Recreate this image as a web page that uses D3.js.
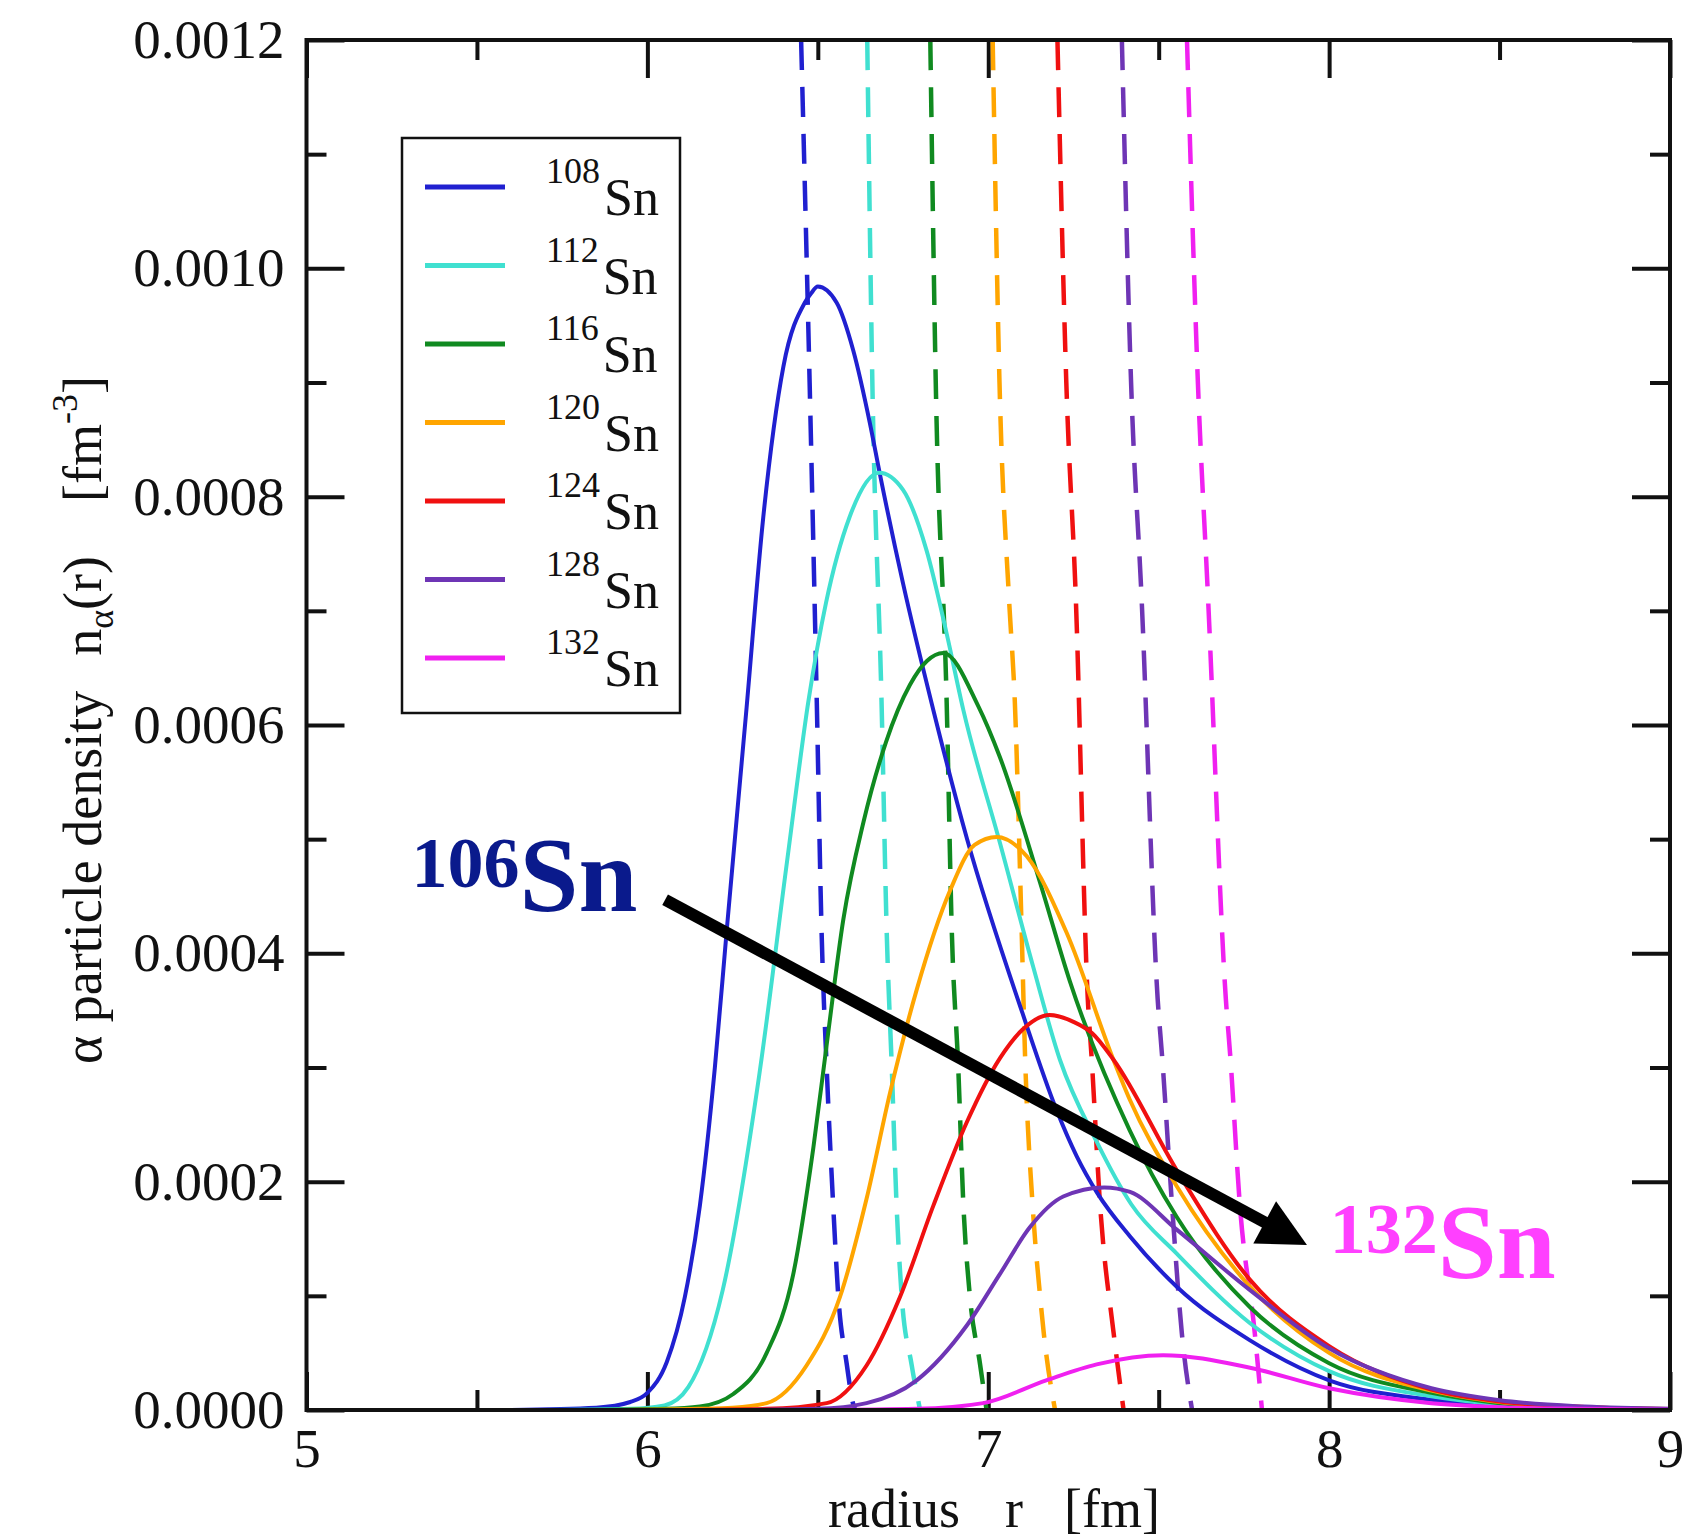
<!DOCTYPE html>
<meta charset='utf-8'>
<head>
    <title>Alpha particle density in Sn isotopes</title>
    <script src='https://cdn.jsdelivr.net/npm/d3@7/dist/d3.min.js'></script>
</head>

<style>
    body { margin: 0; background: #fff; }
    text { font-family: 'Liberation Serif', 'Times New Roman', serif; fill: #111; }
    .tick text { font-size: 55px; }
    .tick line { stroke: #111; stroke-width: 4px; }
    .curve { fill: none; stroke-width: 4px; stroke-linejoin: round; }
    .dashed { fill: none; stroke-width: 4.5px; stroke-dasharray: 30 17; }
</style>

<svg></svg>

<script>
    var vWidth = 1686;
    var vHeight = 1540;

    // density values below are in units of 1e-4 fm^-3
    var vUnit = 1e-4;

    var vNames = ['108', '112', '116', '120', '124', '128', '132'];
    var vColors = ['#2020d0', '#40e0d0', '#108a20', '#ffa500', '#f01010', '#6e35b5', '#f020f0'];

    var vXTicks = [5, 6, 7, 8, 9];
    var vXMinor = [5.5, 6.5, 7.5, 8.5];
    var vYTicks = [0, 0.0002, 0.0004, 0.0006, 0.0008, 0.0010, 0.0012];
    var vYMinor = [0.0001, 0.0003, 0.0005, 0.0007, 0.0009, 0.0011];

    // alpha particle density n_alpha(r), [r in fm, n]
    var vAlpha108 = [[5.60, 0], [5.85, 0.02], [5.95, 0.07], [6.00, 0.15], [6.057, 0.42], [6.11, 0.99],
        [6.154, 1.79], [6.198, 3.00], [6.233, 4.21], [6.291, 6.15], [6.34, 7.82], [6.399, 9.14],
        [6.462, 9.70], [6.48, 9.78], [6.50, 9.84], [6.555, 9.70], [6.604, 9.28], [6.653, 8.64],
        [6.682, 8.20], [6.75, 7.24], [6.839, 6.13], [6.937, 5.01], [7.10, 3.48], [7.20, 2.63],
        [7.26, 2.22], [7.32, 1.90], [7.416, 1.52], [7.553, 1.08], [7.768, 0.61], [8.0, 0.26],
        [8.3, 0.09], [8.5, 0.04], [8.75, 0.015], [9.0, 0.005]];
    var vAlpha112 = [[5.70, 0], [5.95, 0.01], [6.05, 0.04], [6.12, 0.20], [6.221, 1.05], [6.328, 2.93],
        [6.41, 4.81], [6.473, 6.22], [6.524, 7.07], [6.593, 7.82], [6.68, 8.21], [6.75, 8.06],
        [6.819, 7.53], [6.878, 6.80], [6.927, 6.13], [7.034, 4.97], [7.132, 3.88], [7.21, 3.07],
        [7.318, 2.35], [7.42, 1.80], [7.553, 1.37], [7.768, 0.76], [8.0, 0.34], [8.3, 0.12],
        [8.5, 0.05], [8.75, 0.018], [9.0, 0.006]];
    var vAlpha116 = [[5.80, 0], [6.05, 0.01], [6.154, 0.03], [6.252, 0.14], [6.35, 0.50], [6.428, 1.19],
        [6.487, 2.30], [6.526, 3.20], [6.575, 4.30], [6.634, 5.15], [6.70, 5.85], [6.77, 6.35],
        [6.82, 6.56], [6.868, 6.63], [6.97, 6.17], [7.034, 5.72], [7.152, 4.62], [7.24, 3.75],
        [7.415, 2.45], [7.553, 1.69], [7.768, 0.90], [8.0, 0.41], [8.3, 0.15], [8.5, 0.06],
        [8.75, 0.02], [9.0, 0.007]];
    var vAlpha120 = [[5.90, 0], [6.15, 0.01], [6.25, 0.02], [6.35, 0.06], [6.467, 0.39], [6.565, 0.99],
        [6.643, 1.85], [6.712, 2.78], [6.79, 3.68], [6.888, 4.55], [6.96, 4.95], [7.025, 5.02],
        [7.113, 4.85], [7.23, 4.18], [7.367, 3.07], [7.415, 2.72], [7.553, 1.96], [7.768, 1.08],
        [8.0, 0.50], [8.3, 0.17], [8.5, 0.07], [8.75, 0.025], [9.0, 0.008]];
    var vAlpha124 = [[6.0, 0], [6.35, 0.01], [6.526, 0.06], [6.643, 0.39], [6.741, 0.99], [6.839, 1.79],
        [6.937, 2.52], [7.034, 3.08], [7.10, 3.33], [7.18, 3.46], [7.25, 3.40], [7.305, 3.30],
        [7.367, 3.07], [7.553, 2.10], [7.768, 1.14], [8.0, 0.56], [8.3, 0.18], [8.5, 0.075],
        [8.75, 0.027], [9.0, 0.009]];
    var vAlpha128 = [[6.2, 0], [6.5, 0.01], [6.643, 0.06], [6.79, 0.26], [6.937, 0.74], [7.034, 1.19],
        [7.122, 1.60], [7.22, 1.87], [7.34, 1.95], [7.416, 1.91], [7.553, 1.58], [7.768, 1.05],
        [8.0, 0.54], [8.3, 0.19], [8.5, 0.085], [8.75, 0.03], [9.0, 0.01]];
    var vAlpha132 = [[6.5, 0], [6.79, 0.01], [6.985, 0.06], [7.17, 0.26], [7.318, 0.40], [7.513, 0.48],
        [7.768, 0.37], [8.0, 0.19], [8.3, 0.06], [8.5, 0.025], [8.75, 0.01], [9.0, 0.003]];

    // dashed curves, steep fall-off, [r in fm, n]
    var vDash108 = [[6.451, 12], [6.476, 9.0], [6.497, 6.2], [6.511, 4.2], [6.526, 3.0], [6.545, 1.8],
        [6.56, 1.0], [6.585, 0.4], [6.603, 0.06], [6.61, 0]];
    var vDash112 = [[6.645, 12], [6.66, 9.0], [6.687, 6.2], [6.702, 4.2], [6.717, 3.0], [6.731, 1.8],
        [6.746, 1.0], [6.775, 0.4], [6.80, 0]];
    var vDash116 = [[6.83, 12], [6.846, 9.0], [6.878, 6.2], [6.893, 4.2], [6.912, 3.0], [6.927, 1.8],
        [6.946, 1.0], [6.976, 0.4], [6.995, 0]];
    var vDash120 = [[7.013, 12], [7.033, 9.0], [7.061, 7.1], [7.078, 6.2], [7.098, 4.2], [7.108, 3.1],
        [7.13, 1.8], [7.152, 1.0], [7.163, 0.67], [7.196, 0]];
    var vDash124 = [[7.203, 12], [7.229, 9.0], [7.257, 7.1], [7.292, 3.6], [7.303, 3.1], [7.328, 1.8],
        [7.368, 0.67], [7.397, 0]];
    var vDash128 = [[7.392, 12], [7.419, 9.0], [7.45, 7.1], [7.497, 3.6], [7.51, 3.1], [7.539, 1.8],
        [7.568, 0.67], [7.598, 0]];
    var vDash132 = [[7.583, 12], [7.615, 9.0], [7.645, 7.1], [7.697, 3.6], [7.71, 3.1], [7.738, 1.8],
        [7.782, 0.67], [7.803, 0]];

    var vAlpha = [vAlpha108, vAlpha112, vAlpha116, vAlpha120, vAlpha124, vAlpha128, vAlpha132];
    var vDash = [vDash108, vDash112, vDash116, vDash120, vDash124, vDash128, vDash132];

    // arrow and labels, in data coordinates
    var vArrow = [[6.052, 4.47], [7.935, 1.445]];
    var vLabelFrom = [5.308, 4.37];
    var vLabelTo = [8.002, 1.156];

    var svg = d3.select('svg').attr('width', vWidth).attr('height', vHeight);

    var x = d3.scaleLinear().domain([5, 9]).range([306.5, 1670]);
    var y = d3.scaleLinear().domain([0, 0.0012]).range([1410, 40]);

    svg.append('defs').append('clipPath').attr('id', 'plotclip')
        .append('rect')
        .attr('x', x(5)).attr('y', y(0.0012))
        .attr('width', x(9) - x(5)).attr('height', y(0) - y(0.0012));

    var vLine = d3.line()
        .x(function (d) { return x(d[0]); })
        .y(function (d) { return y(d[1] * vUnit); })
        .curve(d3.curveMonotoneX);

    // axes: ticks pointing inward on all four sides
    function addAxis(axis, tx, ty, values, size, fmt, pad) {
        var g = svg.append('g').attr('transform', 'translate(' + tx + ',' + ty + ')')
            .call(axis.tickValues(values).tickSize(-size).tickPadding(pad).tickFormat(fmt));
        g.select('.domain').remove();
        g.attr('font-family', null).attr('font-size', null);
        return g;
    }
    var vNone = function () { return ''; };
    addAxis(d3.axisBottom(x), 0, y(0), vXTicks, 38, d3.format('d'), 18);
    addAxis(d3.axisBottom(x), 0, y(0), vXMinor, 20, vNone, 18);
    addAxis(d3.axisTop(x), 0, y(0.0012), vXTicks, 38, vNone, 10);
    addAxis(d3.axisTop(x), 0, y(0.0012), vXMinor, 20, vNone, 10);
    addAxis(d3.axisLeft(y), x(5), 0, vYTicks, 38, d3.format('.4f'), 22);
    addAxis(d3.axisLeft(y), x(5), 0, vYMinor, 20, vNone, 22);
    addAxis(d3.axisRight(y), x(9), 0, vYTicks, 38, vNone, 10);
    addAxis(d3.axisRight(y), x(9), 0, vYMinor, 20, vNone, 10);

    // curves
    var plot = svg.append('g').attr('clip-path', 'url(#plotclip)');
    plot.selectAll('path.dashed').data(vDash).enter().append('path')
        .attr('class', 'dashed')
        .attr('stroke', function (d, i) { return vColors[i]; })
        .attr('d', vLine);
    plot.selectAll('path.curve').data(vAlpha).enter().append('path')
        .attr('class', 'curve')
        .attr('stroke', function (d, i) { return vColors[i]; })
        .attr('d', vLine);

    // frame
    svg.append('rect')
        .attr('x', x(5)).attr('y', y(0.0012))
        .attr('width', x(9) - x(5)).attr('height', y(0) - y(0.0012))
        .attr('fill', 'none').attr('stroke', '#111').attr('stroke-width', 4);

    // axis titles
    var xt = svg.append('text').attr('x', 828).attr('y', 1527).attr('font-size', 54);
    xt.append('tspan').text('radius');
    xt.append('tspan').attr('dx', 45).text('r');
    xt.append('tspan').attr('dx', 41).text('[fm]');

    var yt = svg.append('text').attr('transform', 'translate(101,720) rotate(-90)')
        .attr('text-anchor', 'middle').attr('font-size', 54);
    yt.append('tspan').text('\u03b1 particle density');
    yt.append('tspan').attr('dx', 35).text('n');
    yt.append('tspan').attr('font-size', 36).attr('dy', 12).text('\u03b1');
    yt.append('tspan').attr('dy', -12).text('(r)');
    yt.append('tspan').attr('dx', 54).text('[fm');
    yt.append('tspan').attr('font-size', 36).attr('dy', -24).text('-3');
    yt.append('tspan').attr('dy', 24).text(']');

    // legend
    var lg = svg.append('g');
    lg.append('rect').attr('x', 402).attr('y', 138).attr('width', 278).attr('height', 575)
        .attr('fill', '#fff').attr('stroke', '#111').attr('stroke-width', 2.5);
    var items = lg.selectAll('g.item').data(vNames).enter().append('g')
        .attr('transform', function (d, i) { return 'translate(0,' + (187 + i * 78.5) + ')'; });
    items.append('line').attr('x1', 425).attr('x2', 505)
        .attr('stroke', function (d, i) { return vColors[i]; }).attr('stroke-width', 5);
    var lt = items.append('text').attr('x', 546).attr('y', 28);
    lt.append('tspan').attr('font-size', 36).attr('dy', -32).text(function (d) { return d; });
    lt.append('tspan').attr('font-size', 52).attr('dx', 4).attr('dy', 32).text('Sn');

    // arrow from 106Sn to 132Sn
    var p0 = [x(vArrow[0][0]), y(vArrow[0][1] * vUnit)];
    var p1 = [x(vArrow[1][0]), y(vArrow[1][1] * vUnit)];
    var dx = p1[0] - p0[0], dy = p1[1] - p0[1], len = Math.sqrt(dx * dx + dy * dy);
    var ux = dx / len, uy = dy / len;
    var hb = [p1[0] - 48 * ux, p1[1] - 48 * uy];
    svg.append('line')
        .attr('x1', p0[0]).attr('y1', p0[1])
        .attr('x2', p1[0] - 40 * ux).attr('y2', p1[1] - 40 * uy)
        .attr('stroke', '#000').attr('stroke-width', 12);
    svg.append('path')
        .attr('d', 'M' + p1[0] + ',' + p1[1] +
            'L' + (hb[0] - 24 * uy) + ',' + (hb[1] + 24 * ux) +
            'L' + (hb[0] + 24 * uy) + ',' + (hb[1] - 24 * ux) + 'Z')
        .attr('fill', '#000');

    var a1 = svg.append('text').attr('x', x(vLabelFrom[0])).attr('y', y(vLabelFrom[1] * vUnit))
        .attr('font-weight', 'bold').style('fill', '#0a1a8c');
    a1.append('tspan').attr('font-size', 72).attr('dy', -24).text('106');
    a1.append('tspan').attr('font-size', 106).attr('dy', 24).text('Sn');

    var a2 = svg.append('text').attr('x', x(vLabelTo[0])).attr('y', y(vLabelTo[1] * vUnit))
        .attr('font-weight', 'bold').style('fill', '#ff40ff');
    a2.append('tspan').attr('font-size', 72).attr('dy', -25).text('132');
    a2.append('tspan').attr('font-size', 106).attr('dy', 25).text('Sn');
</script>
